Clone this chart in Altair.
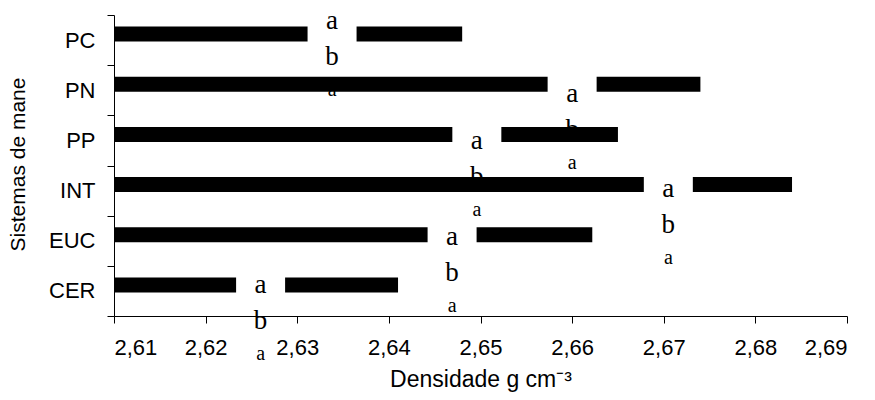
import altair as alt
import pandas as pd

# ---- data ----
categories = ["PC", "PN", "PP", "INT", "EUC", "CER"]
density = [2.648, 2.674, 2.665, 2.684, 2.6622, 2.641]
letter_pos = [2.6338, 2.6600, 2.6496, 2.6705, 2.6469, 2.6260]
letter_top = ["a", "a", "a", "a", "a", "a"]
letter_mid = ["b", "b", "b", "b", "b", "b"]
letter_low = ["a", "a", "a", "a", "a", "a"]
axis_start = 2.61
x_ticks = [2.61, 2.62, 2.63, 2.64, 2.65, 2.66, 2.67, 2.68, 2.69]

# ---- style: vertical shift (px) of each letter stack from its band centre ----
stack_shift = {"PC": -11, "PN": 12, "PP": 9, "INT": 6, "EUC": 4, "CER": 2}
PLOT_H = 301
HALF_BAND = PLOT_H / len(categories) / 2

df = pd.DataFrame({
    "cat": categories,
    "density": density,
    "pos": letter_pos,
    "top": letter_top,
    "mid": letter_mid,
    "low": letter_low,
})
df["start"] = axis_start
df["shift"] = df["cat"].map(stack_shift) + HALF_BAND

xscale = alt.Scale(domain=[x_ticks[0], x_ticks[-1]], zero=False, nice=False)
yscale = alt.Scale(domain=categories, paddingInner=0, paddingOuter=0)

x_axis = alt.Axis(
    values=x_ticks,
    labelExpr="replace(format(datum.value, '.2f'), '.', ',')",
    labelFont="Liberation Sans", labelFontSize=22, labelColor="black",
    labelPadding=14, tickSize=7, tickColor="black", domainColor="black",
    grid=False, title="Densidade g cm\u207b\u00b3",
    titleFont="Liberation Sans", titleFontSize=23, titleFontWeight="normal",
    titleColor="black", titleBaseline="alphabetic", titleX=366.5, titleY=70,
)
y_axis = alt.Axis(
    labelFont="Liberation Sans", labelFontSize=22, labelColor="black",
    labelPadding=12, tickSize=7, tickColor="black", domainColor="black",
    tickBand="extent", grid=False, title="Sistemas de mane",
    titleFont="Liberation Sans", titleFontSize=21, titleFontWeight="normal",
    titleColor="black", titleBaseline="alphabetic", titleAngle=270,
    titleX=-90, titleY=149,
)

base = alt.Chart(df)
Y = alt.Y("cat:N", sort=categories, scale=yscale, axis=y_axis)
Yn = alt.Y("cat:N", sort=categories, scale=yscale)
Xp = alt.X("pos:Q", scale=xscale)

mid_text = base.transform_calculate(s="datum.shift + 36").mark_text(
    font="Liberation Serif", fontSize=27, baseline="alphabetic",
    align="center", color="black",
).encode(x=Xp, y=Yn, yOffset=alt.YOffset("s:Q", scale=None), text="mid:N")

low_text = base.transform_calculate(s="datum.shift + 67").mark_text(
    font="Liberation Serif", fontSize=20, baseline="alphabetic",
    align="center", color="black",
).encode(x=Xp, y=Yn, yOffset=alt.YOffset("s:Q", scale=None), text="low:N")

bars = base.mark_bar(color="black", size=15, yOffset=-6).encode(
    x=alt.X("start:Q", scale=xscale, axis=x_axis),
    x2="density:Q",
    y=Y,
)

gaps = base.mark_tick(color="white", opacity=1, thickness=49, size=17,
                      yOffset=-6, orient="vertical").encode(x=Xp, y=Yn)

top_text = base.mark_text(
    font="Liberation Serif", fontSize=27, baseline="alphabetic",
    align="center", color="black",
).encode(x=Xp, y=Yn, yOffset=alt.YOffset("shift:Q", scale=None), text="top:N")

chart = alt.layer(mid_text, low_text, bars, gaps, top_text).properties(
    width=733, height=PLOT_H,
    autosize=alt.AutoSizeParams(type="none"),
    padding={"left": 106, "top": 7, "right": 20, "bottom": 76},
    background="white",
).configure_view(stroke=None)

chart.save("out.html", embed_options={"renderer": "svg", "actions": False})
